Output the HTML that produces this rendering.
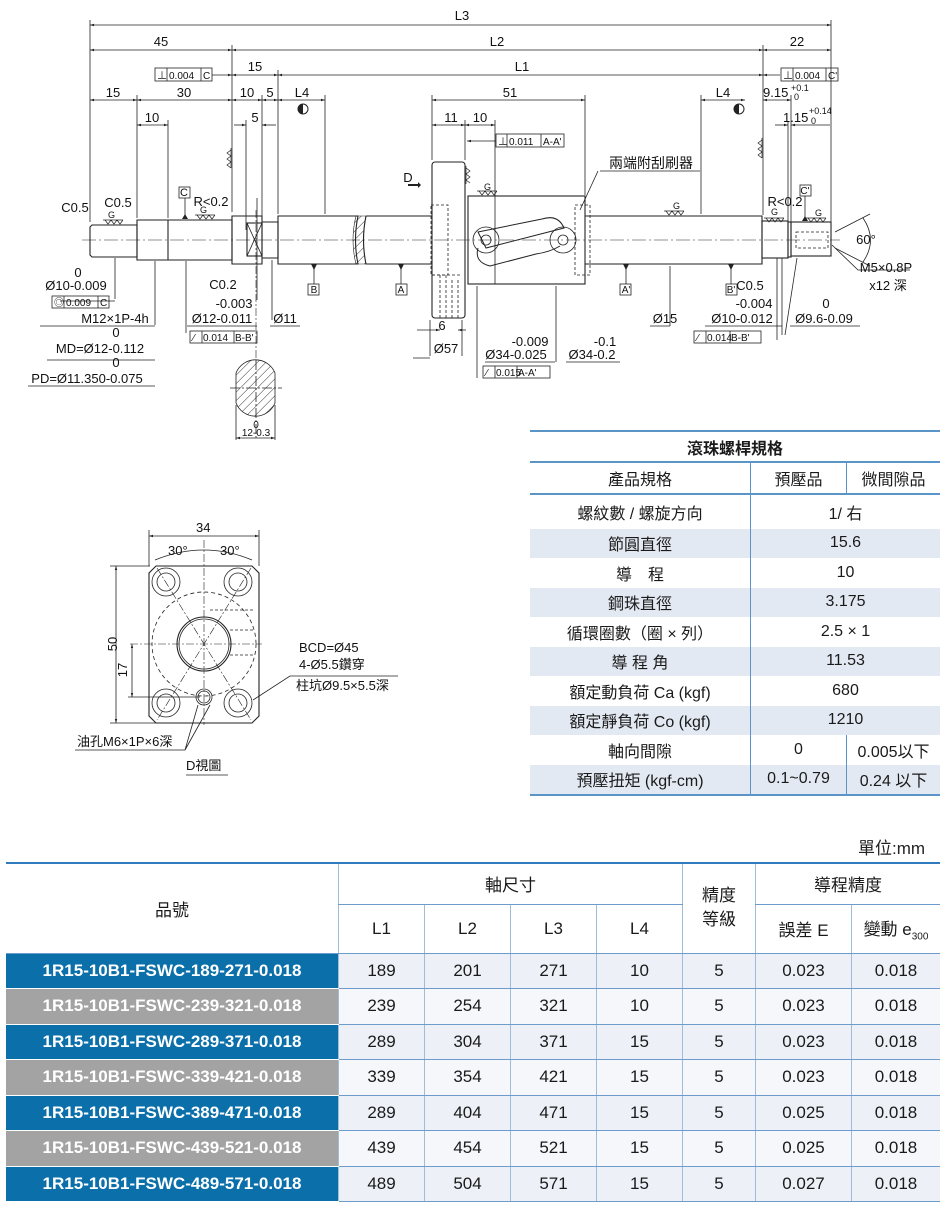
<!DOCTYPE html>
<html><head><meta charset="utf-8"><style>
body{margin:0;background:#fff;width:948px;height:1208px;position:relative;overflow:hidden;font-family:"Liberation Sans","Noto Sans CJK TC",sans-serif}
svg{position:absolute;left:0;top:0}
.t{font-family:"Liberation Sans","Noto Sans CJK TC",sans-serif;font-size:13px;fill:#111}
table{position:absolute;border-collapse:collapse;font-family:"Liberation Sans","Noto Sans CJK TC",sans-serif;color:#1a1a1a}
#spec{left:530px;top:430px;width:410px;font-size:16px}
#spec td{text-align:center;padding:0;height:29.5px}
#spec tr.s td{background:#e3e9f2}
#main{left:6px;top:862px;width:934px;font-size:17px}
#main td{text-align:center;padding:0;border-left:1px solid #9fbcd9;border-bottom:1px solid #6c9ccc}
#main tr.d td{background:#edf1f7}
#main tr.d2 td{background:#f5f7fa}
#main tr td.b{background:#0b6faa;color:#fff;border-bottom:1px solid #fff;border-left:none;font-weight:bold}
#main tr td.g{background:#a3a3a3;color:#fff;border-bottom:1px solid #fff;border-left:none;font-weight:bold}
</style></head><body>
<svg width="948" height="1208" viewBox="0 0 948 1208">
<defs>
<marker id="a" viewBox="0 0 10 10" refX="10" refY="5" markerWidth="7" markerHeight="5" orient="auto-start-reverse"><path d="M0,2 L10,5 L0,8z" fill="#222"/></marker>
<pattern id="h" width="6" height="6" patternUnits="userSpaceOnUse" patternTransform="rotate(45)"><line x1="0" y1="0" x2="0" y2="6" stroke="#333" stroke-width="1"/></pattern>
</defs>
<g stroke="#222" stroke-width="0.8" fill="none">
<line x1="90" y1="20" x2="90" y2="222"/><line x1="831" y1="20" x2="831" y2="222"/>
<line x1="232" y1="45" x2="232" y2="212"/><line x1="763" y1="45" x2="763" y2="215"/>
<line x1="278" y1="70" x2="278" y2="214"/><line x1="137" y1="95" x2="137" y2="218"/>
<line x1="168" y1="120" x2="168" y2="218"/><line x1="262" y1="95" x2="262" y2="216"/>
<line x1="246" y1="120" x2="246" y2="230"/><line x1="325" y1="95" x2="325" y2="214"/>
<line x1="701" y1="95" x2="701" y2="214"/><line x1="791" y1="95" x2="791" y2="222"/>
<line x1="788" y1="122" x2="788" y2="222"/>
<line x1="432" y1="95" x2="432" y2="160"/><line x1="585" y1="95" x2="585" y2="195"/>
<line x1="465" y1="120" x2="465" y2="160"/><line x1="495" y1="120" x2="495" y2="284"/>
<line x1="90" y1="25" x2="831" y2="25" marker-start="url(#a)" marker-end="url(#a)"/>
<line x1="90" y1="50" x2="232" y2="50" marker-start="url(#a)" marker-end="url(#a)"/>
<line x1="232" y1="50" x2="763" y2="50" marker-start="url(#a)" marker-end="url(#a)"/>
<line x1="763" y1="50" x2="831" y2="50" marker-start="url(#a)" marker-end="url(#a)"/>
<line x1="232" y1="75" x2="278" y2="75" marker-start="url(#a)" marker-end="url(#a)"/>
<line x1="278" y1="75" x2="763" y2="75" marker-start="url(#a)" marker-end="url(#a)"/>
<line x1="763" y1="75" x2="780" y2="75" marker-start="url(#a)"/>
<line x1="212" y1="75" x2="232" y2="75" marker-end="url(#a)"/>
<line x1="90" y1="100" x2="137" y2="100" marker-start="url(#a)" marker-end="url(#a)"/>
<line x1="137" y1="100" x2="232" y2="100" marker-start="url(#a)" marker-end="url(#a)"/>
<line x1="232" y1="100" x2="262" y2="100" marker-start="url(#a)" marker-end="url(#a)"/>
<line x1="262" y1="100" x2="278" y2="100" marker-start="url(#a)" marker-end="url(#a)"/>
<line x1="278" y1="100" x2="325" y2="100" marker-start="url(#a)" marker-end="url(#a)"/>
<line x1="701" y1="100" x2="745" y2="100" marker-start="url(#a)" marker-end="url(#a)"/>
<line x1="763" y1="100" x2="791" y2="100" marker-start="url(#a)" marker-end="url(#a)"/>
<line x1="432" y1="100" x2="585" y2="100" marker-start="url(#a)" marker-end="url(#a)"/>
<line x1="137" y1="125" x2="168" y2="125" marker-start="url(#a)" marker-end="url(#a)"/>
<line x1="234" y1="125" x2="246" y2="125" marker-end="url(#a)"/>
<line x1="276" y1="125" x2="262" y2="125" marker-end="url(#a)"/>
<line x1="432" y1="125" x2="465" y2="125" marker-start="url(#a)" marker-end="url(#a)"/>
<line x1="465" y1="125" x2="495" y2="125" marker-start="url(#a)" marker-end="url(#a)"/>
<line x1="775" y1="125" x2="788" y2="125" marker-end="url(#a)"/>
<line x1="830" y1="125" x2="791" y2="125" marker-end="url(#a)"/>
<line x1="496" y1="141" x2="467" y2="141" marker-end="url(#a)"/>
<line x1="82" y1="240" x2="840" y2="240" stroke-dasharray="14,3,2,3" stroke-width="0.6"/>
<g stroke-width="1.1">
<path d="M90,227 L92,225 L137,225 L137,257 L92,257 L90,255 Z"/>
<path d="M137,220 L168,220 L168,260 L137,260 Z"/><path d="M168,220 L232,220 L232,260 L168,260"/>
<path d="M232,216 L262,216 L262,264 L232,264 Z"/><rect x="247" y="223" width="15" height="33"/>
<path d="M247,223 L262,256 M262,223 L247,256" stroke-width="0.8"/>
<path d="M262,222 L278,222 L278,258 L262,258"/>
<path d="M278,216 L358,216 Q353,240 358,264 L278,264 Z"/>
<path d="M366,216 Q361,240 366,264 L432,264 M366,216 L432,216"/>
<rect x="432" y="162" width="33" height="156" rx="3"/>
<rect x="468" y="196" width="117" height="88"/>
<path d="M585,216 L762,216 L762,264 L585,264"/>
<rect x="762" y="221" width="26" height="37"/><rect x="788" y="222" width="3" height="35"/>
<rect x="791" y="222" width="40" height="34"/>
</g>
<path d="M356,216 Q350,240 356,264 L366,264 Q361,240 366,216 Z" fill="url(#h)" stroke-width="0.6"/>
<rect x="796" y="232" width="32" height="16" stroke-dasharray="3,2"/>
<path d="M478,232 L542,219 Q558,214 564,228 L486,248 Z" stroke-width="1"/>
<path d="M478,248 Q474,262 490,266 L536,254 Q550,252 560,246" stroke-width="1"/>
<circle cx="486" cy="240" r="13"/><circle cx="486" cy="240" r="5"/>
<circle cx="563" cy="240" r="13"/><circle cx="563" cy="240" r="5"/>
<rect x="575" y="205" width="15" height="70" stroke-dasharray="3,2"/>
<rect x="431" y="205" width="17" height="70" stroke-dasharray="3,2"/>
<path d="M432,275 L460,275 M440,275 L440,318 M446,275 L446,318 M452,280 L452,318 M458,280 L458,318" stroke-dasharray="3,2"/>
<line x1="417" y1="330" x2="440" y2="330" marker-end="url(#a)"/><line x1="466" y1="330" x2="458" y2="330" marker-end="url(#a)"/>
<line x1="430" y1="320" x2="430" y2="356"/><line x1="462" y1="320" x2="462" y2="356"/>
<line x1="115" y1="258" x2="115" y2="299"/><line x1="155" y1="261" x2="155" y2="325"/>
<line x1="186" y1="261" x2="186" y2="333"/><line x1="257" y1="198" x2="257" y2="300"/>
<line x1="272" y1="260" x2="272" y2="320"/>
<line x1="477" y1="286" x2="477" y2="378"/><line x1="556" y1="286" x2="556" y2="362"/>
<line x1="670" y1="266" x2="670" y2="326"/><line x1="782" y1="258" x2="782" y2="335"/>
<line x1="797" y1="258" x2="785" y2="335"/><line x1="777" y1="258" x2="777" y2="340"/>
<line x1="598" y1="171" x2="580" y2="210"/>
<path d="M60,301 L115,301 M40,326 L155,326 M47,360 L155,360 M28,386 L155,386 M187,326 L257,326 M270,326 L300,326 M413,358 L430,358 M485,362 L555,362 M566,362 L620,362 M650,326 L670,326 M705,326 L782,326 M790,326 L860,326 M600,171 L700,171"/>
<line x1="314" y1="264" x2="314" y2="284"/><line x1="401" y1="264" x2="401" y2="284"/>
<line x1="626" y1="264" x2="626" y2="284"/><line x1="731" y1="264" x2="731" y2="284"/>
<line x1="185" y1="198" x2="185" y2="219"/><line x1="805" y1="196" x2="805" y2="221"/>
<path d="M236,373 A21,21 0 0 1 275,373 L275,403 A21,21 0 0 1 236,403 Z" fill="url(#h)"/>
<line x1="256" y1="360" x2="256" y2="440" stroke-dasharray="10,2,2,2"/>
<line x1="230" y1="388" x2="282" y2="388" stroke-dasharray="10,2,2,2"/>
<line x1="236" y1="405" x2="236" y2="440"/><line x1="275" y1="405" x2="275" y2="440"/>
<line x1="236" y1="438" x2="275" y2="438" marker-start="url(#a)" marker-end="url(#a)"/>
<line x1="256" y1="210" x2="256" y2="360" stroke-dasharray="8,2,2,2" stroke-width="0.6"/>
<path d="M835,232 L870,214 M835,248 L870,266 M863,218 Q878,240 863,262"/>
<path d="M832,245 L858,270 L910,270"/>
<rect x="155" y="68" width="57" height="13"/><line x1="167" y1="68" x2="167" y2="81"/><line x1="201" y1="68" x2="201" y2="81"/>
<rect x="781" y="68" width="57" height="13"/><line x1="793" y1="68" x2="793" y2="81"/><line x1="826" y1="68" x2="826" y2="81"/>
<rect x="496" y="134" width="68" height="13"/><line x1="507" y1="134" x2="507" y2="147"/><line x1="541" y1="134" x2="541" y2="147"/>
<rect x="52" y="296" width="57" height="12"/><line x1="64" y1="296" x2="64" y2="308"/><line x1="98" y1="296" x2="98" y2="308"/>
<rect x="190" y="331" width="67" height="12"/><line x1="202" y1="331" x2="202" y2="343"/><line x1="234" y1="331" x2="234" y2="343"/>
<rect x="483" y="366" width="67" height="12"/><line x1="495" y1="366" x2="495" y2="378"/><line x1="517" y1="366" x2="517" y2="378"/>
<rect x="694" y="331" width="67" height="12"/><line x1="706" y1="331" x2="706" y2="343"/><line x1="730" y1="331" x2="730" y2="343"/>
<rect x="179" y="187" width="11" height="11"/><rect x="800" y="185" width="11" height="11"/>
<rect x="308" y="284" width="11" height="11"/><rect x="396" y="284" width="11" height="11"/>
<rect x="620" y="284" width="11" height="11"/><rect x="726" y="284" width="11" height="11"/>
</g>
<g fill="#222">
<path d="M311,264 L317,264 L314,270Z M398,264 L404,264 L401,270Z M623,264 L629,264 L626,270Z M728,264 L734,264 L731,270Z M182,219 L188,219 L185,214Z M802,221 L808,221 L805,216Z"/>
<path d="M408,184 L418,184 L418,182 L421,185 L418,188 L418,186 L408,186Z"/>
<circle cx="303" cy="109" r="5" fill="none" stroke="#222"/><path d="M303,104 A5,5 0 0 0 303,114Z"/>
<circle cx="739" cy="109" r="5" fill="none" stroke="#222"/><path d="M739,104 A5,5 0 0 0 739,114Z"/>
</g>
<g class="t" text-anchor="middle">
<text x="462" y="20">L3</text><text x="161" y="46">45</text><text x="497" y="46">L2</text><text x="797" y="46">22</text>
<text x="255" y="71">15</text><text x="522" y="71">L1</text>
<text x="113" y="97">15</text><text x="184" y="97">30</text><text x="247" y="97">10</text><text x="270" y="97">5</text><text x="302" y="97">L4</text>
<text x="152" y="122">10</text><text x="255" y="122">5</text>
<text x="510" y="97">51</text><text x="451" y="122">11</text><text x="480" y="122">10</text><text x="723" y="97">L4</text>
<text x="75" y="212">C0.5</text><text x="118" y="207">C0.5</text><text x="184" y="196" font-size="11">C</text><text x="211" y="206">R&lt;0.2</text>
<text x="223" y="289">C0.2</text><text x="314" y="293" font-size="10">B</text><text x="401" y="293" font-size="10">A</text>
<text x="626" y="293" font-size="10">A'</text><text x="731" y="293" font-size="10">B'</text><text x="805" y="194" font-size="10">C'</text>
<text x="785" y="206">R&lt;0.2</text><text x="750" y="290">C0.5</text>
<text x="78" y="277">0</text><text x="76" y="290">Ø10-0.009</text>
<text x="115" y="323">M12×1P-4h</text><text x="116" y="337">0</text><text x="100" y="353">MD=Ø12-0.112</text>
<text x="116" y="367">0</text><text x="87" y="383">PD=Ø11.350-0.075</text>
<text x="234" y="308">-0.003</text><text x="222" y="323">Ø12-0.011</text><text x="285" y="323">Ø11</text>
<text x="442" y="330">6</text><text x="446" y="353">Ø57</text>
<text x="530" y="346">-0.009</text><text x="516" y="359">Ø34-0.025</text><text x="605" y="346">-0.1</text><text x="592" y="359">Ø34-0.2</text>
<text x="665" y="323">Ø15</text><text x="754" y="308">-0.004</text><text x="742" y="323">Ø10-0.012</text>
<text x="826" y="308">0</text><text x="824" y="323">Ø9.6-0.09</text>
<text x="866" y="244">60°</text><text x="886" y="272">M5×0.8P</text><text x="888" y="290">x12 深</text>
<text x="651" y="168" font-size="14">兩端附刮刷器</text>
<text x="408" y="182" font-size="13">D</text>
<text x="256" y="428" font-size="10">0</text><text x="256" y="436" font-size="10">12-0.3</text>
</g>
<g class="t" font-size="10">
<text x="157" y="79" font-size="10">⊥</text><text x="169" y="79" font-size="10">0.004</text><text x="203" y="79" font-size="10">C</text>
<text x="783" y="79" font-size="10">⊥</text><text x="795" y="79" font-size="10">0.004</text><text x="828" y="79" font-size="10">C'</text>
<text x="498" y="145" font-size="10">⊥</text><text x="509" y="145" font-size="10">0.011</text><text x="543" y="145" font-size="10">A-A'</text>
<text x="54" y="306" font-size="10">◎</text><text x="66" y="306" font-size="10">0.009</text><text x="100" y="306" font-size="10">C</text>
<text x="193" y="341" font-size="10">⁄</text><text x="203" y="341" font-size="10">0.014</text><text x="235" y="341" font-size="10">B-B'</text>
<text x="486" y="376" font-size="10">⁄</text><text x="496" y="376" font-size="10">0.015</text><text x="518" y="376" font-size="10">A-A'</text>
<text x="697" y="341" font-size="10">⁄</text><text x="707" y="341" font-size="10">0.014</text><text x="731" y="341" font-size="10">B-B'</text>
<text x="108" y="218" font-size="9">G</text><text x="200" y="213" font-size="9">G</text><text x="484" y="190" font-size="9">G</text>
<text x="673" y="209" font-size="9">G</text><text x="771" y="215" font-size="9">G</text><text x="815" y="216" font-size="9">G</text>
</g>
<g class="t">
<text x="763" y="97">9.15</text><text x="791" y="91" font-size="9">+0.1</text><text x="794" y="100" font-size="9">0</text>
<text x="783" y="122">1.15</text><text x="809" y="114" font-size="9">+0.14</text><text x="811" y="124" font-size="9">0</text>
</g>
<g stroke="#222" stroke-width="0.7" fill="none">
<path d="M103,220 L123,220 M105,220 L108,224 L111,220 L114,224 L117,220 L120,224 L123,220"/>
<path d="M195,215 L215,215 M197,215 L200,219 L203,215 L206,219 L209,215 L212,219 L215,215"/>
<path d="M477,191 L497,191 M479,191 L482,195 L485,191 L488,195 L491,191 L494,195 L497,191"/>
<path d="M664,211 L684,211 M666,211 L669,215 L672,211 L675,215 L678,211 L681,215 L684,211"/>
<path d="M764,218 L784,218 M766,218 L769,222 L772,218 L775,222 L778,218 L781,222 L784,218"/>
<path d="M806,218 L826,218 M808,218 L811,222 L814,218 L817,222 L820,218 L823,222 L826,218"/>
<path d="M231,148 L231,168 M231,150 L227,153 L231,156 L227,159 L231,162 L227,165 L231,168"/>
<path d="M466,166 L466,184 M466,168 L470,171 L466,174 L470,177 L466,180 L470,183"/>
<path d="M762,138 L762,158 M762,140 L758,143 L762,146 L758,149 L762,152 L758,155 L762,158"/>
</g>
<g stroke="#222" stroke-width="0.8" fill="none">
<path d="M156,566 L252,566 L259,573 L259,716 L252,723 L156,723 L149,716 L149,573 Z" stroke-width="1.1"/>
<circle cx="166" cy="582" r="14"/><circle cx="166" cy="582" r="9"/>
<circle cx="238" cy="582" r="14"/><circle cx="238" cy="582" r="9"/>
<circle cx="166" cy="703" r="14"/><circle cx="166" cy="703" r="9"/>
<circle cx="238" cy="703" r="14"/><circle cx="238" cy="703" r="9"/>
<circle cx="204" cy="644" r="27" stroke-width="1.1"/><circle cx="204" cy="644" r="25"/>
<circle cx="204" cy="697" r="8"/><circle cx="204" cy="697" r="6"/>
<circle cx="204" cy="644" r="52" stroke-dasharray="4,3"/>
<g stroke-dasharray="8,2,2,2" stroke-width="0.6">
<line x1="204" y1="540" x2="204" y2="725"/><line x1="130" y1="644" x2="262" y2="644"/>
<line x1="157" y1="568" x2="251" y2="720"/><line x1="251" y1="568" x2="157" y2="720"/>
</g>
<path d="M210,610 L255,610 M230,630 L255,630 M230,655 L255,655" stroke-dasharray="3,2"/>
<line x1="149" y1="530" x2="149" y2="566"/><line x1="259" y1="530" x2="259" y2="566"/>
<line x1="149" y1="536" x2="259" y2="536" marker-start="url(#a)" marker-end="url(#a)"/>
<path d="M155,560 Q204,540 252,560"/>
<line x1="110" y1="566" x2="150" y2="566"/><line x1="110" y1="723" x2="156" y2="723"/>
<line x1="116" y1="566" x2="116" y2="723" marker-start="url(#a)" marker-end="url(#a)"/>
<line x1="128" y1="697" x2="200" y2="697"/>
<line x1="132" y1="644" x2="132" y2="697" marker-start="url(#a)" marker-end="url(#a)"/>
<path d="M253,700 L290,676 L398,676 M75,750 L185,750 L198,705 M185,750 L210,705 M186,775 L228,775"/>
</g>
<g class="t" font-size="13">
<text x="196" y="532">34</text><text x="168" y="555">30°</text><text x="220" y="555">30°</text>
<text x="111" y="650" transform="rotate(-90 111 644)" text-anchor="middle">50</text>
<text x="127" y="670" transform="rotate(-90 127 670)" text-anchor="middle">17</text>
<text x="299" y="652">BCD=Ø45</text><text x="299" y="669">4-Ø5.5鑽穿</text><text x="296" y="690">柱坑Ø9.5×5.5深</text>
<text x="77" y="746">油孔M6×1P×6深</text><text x="186" y="770">D視圖</text>
</g>
</svg>

<table id="spec">
<tr><td colspan="3" style="border-top:2px solid #5b95c8;border-bottom:2px solid #5b95c8;font-weight:bold;height:29px">滾珠螺桿規格</td></tr>
<tr><td style="width:220px;border-right:1px solid #5b95c8;border-bottom:2px solid #5b95c8">產品規格</td><td style="width:95px;border-right:1px solid #5b95c8;border-bottom:2px solid #5b95c8">預壓品</td><td style="border-bottom:2px solid #5b95c8">微間隙品</td></tr>
<tr><td style="border-right:1px solid #5b95c8;height:34px">螺紋數 / 螺旋方向</td><td colspan="2">1/ 右</td></tr>
<tr class="s"><td style="border-right:1px solid #5b95c8">節圓直徑</td><td colspan="2">15.6</td></tr>
<tr><td style="border-right:1px solid #5b95c8">導　程</td><td colspan="2">10</td></tr>
<tr class="s"><td style="border-right:1px solid #5b95c8">鋼珠直徑</td><td colspan="2">3.175</td></tr>
<tr><td style="border-right:1px solid #5b95c8">循環圈數（圈 × 列）</td><td colspan="2">2.5 × 1</td></tr>
<tr class="s"><td style="border-right:1px solid #5b95c8">導 程 角</td><td colspan="2">11.53</td></tr>
<tr><td style="border-right:1px solid #5b95c8">額定動負荷 Ca (kgf)</td><td colspan="2">680</td></tr>
<tr class="s"><td style="border-right:1px solid #5b95c8">額定靜負荷 Co (kgf)</td><td colspan="2">1210</td></tr>
<tr><td style="border-right:1px solid #5b95c8">軸向間隙</td><td style="border-right:1px solid #5b95c8">0</td><td>0.005以下</td></tr>
<tr class="s"><td style="border-right:1px solid #5b95c8;border-bottom:2px solid #5b95c8">預壓扭矩 (kgf-cm)</td><td style="border-right:1px solid #5b95c8;border-bottom:2px solid #5b95c8">0.1~0.79</td><td style="border-bottom:2px solid #5b95c8">0.24 以下</td></tr>
</table>

<div style="position:absolute;left:858px;top:834px;font-size:17px;color:#222">單位:mm</div>

<table id="main">
<tr style="height:41px"><td rowspan="2" style="width:332px;border-left:none;border-top:2px solid #2f7bbd">品號</td><td colspan="4" style="border-top:2px solid #2f7bbd">軸尺寸</td><td rowspan="2" style="width:72px;border-top:2px solid #2f7bbd;line-height:24px">精度<br>等級</td><td colspan="2" style="border-top:2px solid #2f7bbd">導程精度</td></tr>
<tr style="height:49px"><td style="width:85px">L1</td><td style="width:85px">L2</td><td style="width:85px">L3</td><td style="width:85px">L4</td><td style="width:95px">誤差 E</td><td>變動 e<sub style="font-size:10px">300</sub></td></tr>
<tr class="d" style="height:35.5px"><td class="b">1R15-10B1-FSWC-189-271-0.018</td><td>189</td><td>201</td><td>271</td><td>10</td><td>5</td><td>0.023</td><td>0.018</td></tr>
<tr class="d2" style="height:35.5px"><td class="g">1R15-10B1-FSWC-239-321-0.018</td><td>239</td><td>254</td><td>321</td><td>10</td><td>5</td><td>0.023</td><td>0.018</td></tr>
<tr class="d" style="height:35.5px"><td class="b">1R15-10B1-FSWC-289-371-0.018</td><td>289</td><td>304</td><td>371</td><td>15</td><td>5</td><td>0.023</td><td>0.018</td></tr>
<tr class="d2" style="height:35.5px"><td class="g">1R15-10B1-FSWC-339-421-0.018</td><td>339</td><td>354</td><td>421</td><td>15</td><td>5</td><td>0.023</td><td>0.018</td></tr>
<tr class="d" style="height:35.5px"><td class="b">1R15-10B1-FSWC-389-471-0.018</td><td>289</td><td>404</td><td>471</td><td>15</td><td>5</td><td>0.025</td><td>0.018</td></tr>
<tr class="d2" style="height:35.5px"><td class="g">1R15-10B1-FSWC-439-521-0.018</td><td>439</td><td>454</td><td>521</td><td>15</td><td>5</td><td>0.025</td><td>0.018</td></tr>
<tr class="d" style="height:35.5px"><td class="b">1R15-10B1-FSWC-489-571-0.018</td><td>489</td><td>504</td><td>571</td><td>15</td><td>5</td><td>0.027</td><td>0.018</td></tr>
</table>
</body></html>
